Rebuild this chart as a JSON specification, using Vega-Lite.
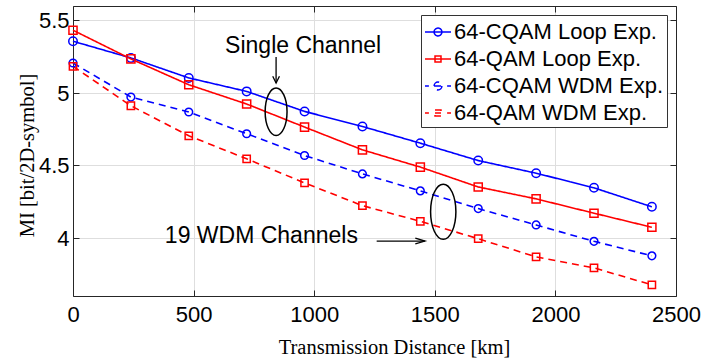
{
  "$schema": "https://vega.github.io/schema/vega-lite/v6.json",
  "width": 603,
  "height": 290,
  "autosize": "none",
  "padding": {"left": 73, "top": 6, "right": 51, "bottom": 64},
  "background": "white",
  "config": {"view": {"stroke": null}},
  "datasets": {
    "mi": [
      {"d": 0, "mi": 5.357, "s": "64-CQAM Loop Exp."},
      {"d": 240, "mi": 5.242, "s": "64-CQAM Loop Exp."},
      {"d": 480, "mi": 5.104, "s": "64-CQAM Loop Exp."},
      {"d": 720, "mi": 5.011, "s": "64-CQAM Loop Exp."},
      {"d": 960, "mi": 4.873, "s": "64-CQAM Loop Exp."},
      {"d": 1200, "mi": 4.769, "s": "64-CQAM Loop Exp."},
      {"d": 1440, "mi": 4.654, "s": "64-CQAM Loop Exp."},
      {"d": 1680, "mi": 4.534, "s": "64-CQAM Loop Exp."},
      {"d": 1920, "mi": 4.447, "s": "64-CQAM Loop Exp."},
      {"d": 2160, "mi": 4.346, "s": "64-CQAM Loop Exp."},
      {"d": 2400, "mi": 4.215, "s": "64-CQAM Loop Exp."},
      {"d": 0, "mi": 5.433, "s": "64-QAM Loop Exp."},
      {"d": 240, "mi": 5.235, "s": "64-QAM Loop Exp."},
      {"d": 480, "mi": 5.057, "s": "64-QAM Loop Exp."},
      {"d": 720, "mi": 4.924, "s": "64-QAM Loop Exp."},
      {"d": 960, "mi": 4.765, "s": "64-QAM Loop Exp."},
      {"d": 1200, "mi": 4.608, "s": "64-QAM Loop Exp."},
      {"d": 1440, "mi": 4.489, "s": "64-QAM Loop Exp."},
      {"d": 1680, "mi": 4.352, "s": "64-QAM Loop Exp."},
      {"d": 1920, "mi": 4.270, "s": "64-QAM Loop Exp."},
      {"d": 2160, "mi": 4.171, "s": "64-QAM Loop Exp."},
      {"d": 2400, "mi": 4.074, "s": "64-QAM Loop Exp."},
      {"d": 0, "mi": 5.207, "s": "64-CQAM WDM Exp."},
      {"d": 240, "mi": 4.972, "s": "64-CQAM WDM Exp."},
      {"d": 480, "mi": 4.869, "s": "64-CQAM WDM Exp."},
      {"d": 720, "mi": 4.719, "s": "64-CQAM WDM Exp."},
      {"d": 960, "mi": 4.569, "s": "64-CQAM WDM Exp."},
      {"d": 1200, "mi": 4.442, "s": "64-CQAM WDM Exp."},
      {"d": 1440, "mi": 4.325, "s": "64-CQAM WDM Exp."},
      {"d": 1680, "mi": 4.203, "s": "64-CQAM WDM Exp."},
      {"d": 1920, "mi": 4.090, "s": "64-CQAM WDM Exp."},
      {"d": 2160, "mi": 3.977, "s": "64-CQAM WDM Exp."},
      {"d": 2400, "mi": 3.877, "s": "64-CQAM WDM Exp."},
      {"d": 0, "mi": 5.184, "s": "64-QAM WDM Exp."},
      {"d": 240, "mi": 4.912, "s": "64-QAM WDM Exp."},
      {"d": 480, "mi": 4.705, "s": "64-QAM WDM Exp."},
      {"d": 720, "mi": 4.546, "s": "64-QAM WDM Exp."},
      {"d": 960, "mi": 4.380, "s": "64-QAM WDM Exp."},
      {"d": 1200, "mi": 4.223, "s": "64-QAM WDM Exp."},
      {"d": 1440, "mi": 4.115, "s": "64-QAM WDM Exp."},
      {"d": 1680, "mi": 3.995, "s": "64-QAM WDM Exp."},
      {"d": 1920, "mi": 3.870, "s": "64-QAM WDM Exp."},
      {"d": 2160, "mi": 3.794, "s": "64-QAM WDM Exp."},
      {"d": 2400, "mi": 3.677, "s": "64-QAM WDM Exp."}
    ],
    "labels": [
      {"d": 954, "mi": 5.276, "label": "Single Channel"},
      {"d": 781, "mi": 3.967, "label": "19 WDM Channels"}
    ],
    "arrows": [
      {"d": 842, "mi": 5.249, "d2": 842, "mi2": 5.069, "dir": "down"},
      {"d": 1259, "mi": 3.979, "d2": 1459, "mi2": 3.979, "dir": "right"}
    ],
    "ellipses": [
      {"d": 842, "mi": 4.871, "group": "Single Channel"},
      {"d": 1535, "mi": 4.181, "group": "19 WDM Channels"}
    ]
  },
  "resolve": {
    "axis": {"x": "independent", "y": "independent"},
    "scale": {"shape": "independent", "size": "independent"}
  },
  "layer": [
    {
      "data": {"name": "mi"},
      "mark": {"type": "line", "strokeWidth": 1.6, "strokeCap": "butt"},
      "encoding": {
        "x": {
          "field": "d", "type": "quantitative",
          "scale": {"domain": [0, 2500], "nice": false, "zero": false},
          "axis": {
            "orient": "bottom",
            "values": [0, 500, 1000, 1500, 2000, 2500],
            "format": "d",
            "title": "Transmission Distance [km]",
            "titleFont": "Liberation Serif", "titleFontSize": 20.5, "titleFontWeight": "normal", "titleColor": "#000",
            "titleX": 321, "titleY": 57, "titleBaseline": "alphabetic", "titleAlign": "center", "titleAnchor": null,
            "labelFont": "Liberation Sans", "labelFontSize": 22, "labelColor": "#000",
            "labelFlush": false, "labelOverlap": false, "labelPadding": 14,
            "grid": true, "gridColor": "#dedede", "gridWidth": 1,
            "domainColor": "#262626", "domainWidth": 1,
            "tickColor": "#262626", "tickSize": -6, "tickWidth": 1
          }
        },
        "y": {
          "field": "mi", "type": "quantitative",
          "scale": {"domain": [3.6, 5.6], "nice": false, "zero": false},
          "axis": {
            "orient": "left",
            "values": [4, 4.5, 5, 5.5],
            "format": "~g",
            "title": "MI [bit/2D-symbol]",
            "titleFont": "Liberation Serif", "titleFontSize": 20.5, "titleFontWeight": "normal", "titleColor": "#000",
            "titleX": -40, "titleY": 149, "titleBaseline": "alphabetic", "titleAlign": "center", "titleAngle": 270, "titleAnchor": null,
            "labelFont": "Liberation Sans", "labelFontSize": 22, "labelColor": "#000",
            "labelPadding": 10, "labelOverlap": false,
            "grid": true, "gridColor": "#dedede", "gridWidth": 1,
            "domainColor": "#262626", "domainWidth": 1,
            "tickColor": "#262626", "tickSize": -6, "tickWidth": 1
          }
        },
        "color": {
          "field": "s", "type": "nominal",
          "scale": {
            "domain": ["64-CQAM Loop Exp.", "64-QAM Loop Exp.", "64-CQAM WDM Exp.", "64-QAM WDM Exp."],
            "range": ["#0000ff", "#ff0000", "#0000ff", "#ff0000"]
          },
          "legend": {
            "title": null,
            "orient": "top-right",
            "offset": 9,
            "padding": 3,
            "fillColor": "white",
            "strokeColor": "#333333",
            "cornerRadius": 0,
            "labelFont": "Liberation Sans", "labelFontSize": 22, "labelColor": "#000", "labelLimit": 400,
            "labelOffset": 2,
            "rowPadding": 2,
            "symbolSize": 676,
            "symbolStrokeWidth": 1.5,
            "encode": {
              "symbols": {
                "update": {
                  "shape": {"signal": "datum.value === '64-CQAM Loop Exp.' ? 'M-1,0H1M0.3,0A0.3,0.3 0 1,1 -0.3,0A0.3,0.3 0 1,1 0.3,0' : datum.value === '64-QAM Loop Exp.' ? 'M-1,0H1M-0.23,-0.23H0.23V0.23H-0.23Z' : datum.value === '64-CQAM WDM Exp.' ? 'M-1,0H-0.7M-0.3,0H0.3M0.7,0H1M0.3,0A0.3,0.3 0 1,1 -0.3,0A0.3,0.3 0 1,1 0.3,0' : 'M-1,0H-0.7M-0.23,0H0.23M0.7,0H1M-0.23,-0.23H0.23V0.23H-0.23Z'"},
                  "fill": {"value": "transparent"},
                  "strokeWidth": {"value": 1.5},
                  "strokeDash": {"value": []}
                }
              }
            }
          }
        },
        "strokeDash": {
          "field": "s", "type": "nominal",
          "scale": {
            "domain": ["64-CQAM Loop Exp.", "64-QAM Loop Exp.", "64-CQAM WDM Exp.", "64-QAM WDM Exp."],
            "range": [[1, 0], [1, 0], [7, 5], [7, 5]]
          },
          "legend": null
        }
      }
    },
    {
      "data": {"name": "mi"},
      "mark": {"type": "point", "filled": false, "strokeWidth": 1.5, "opacity": 1},
      "encoding": {
        "x": {
          "field": "d", "type": "quantitative",
          "axis": {
            "orient": "top", "values": [0, 500, 1000, 1500, 2000, 2500],
            "labels": false, "title": null, "grid": false,
            "domainColor": "#262626", "domainWidth": 1,
            "tickColor": "#262626", "tickSize": -6, "tickWidth": 1
          }
        },
        "y": {
          "field": "mi", "type": "quantitative",
          "axis": {
            "orient": "right", "values": [4, 4.5, 5, 5.5],
            "labels": false, "title": null, "grid": false,
            "domainColor": "#262626", "domainWidth": 1,
            "tickColor": "#262626", "tickSize": -6, "tickWidth": 1
          }
        },
        "color": {"field": "s", "type": "nominal", "legend": null},
        "shape": {
          "field": "s", "type": "nominal",
          "scale": {
            "domain": ["64-CQAM Loop Exp.", "64-QAM Loop Exp.", "64-CQAM WDM Exp.", "64-QAM WDM Exp."],
            "range": ["circle", "square", "circle", "square"]
          },
          "legend": null
        },
        "size": {
          "field": "s", "type": "nominal",
          "scale": {
            "domain": ["64-CQAM Loop Exp.", "64-QAM Loop Exp.", "64-CQAM WDM Exp.", "64-QAM WDM Exp."],
            "range": [72, 53, 72, 53]
          },
          "legend": null
        }
      }
    },
    {
      "data": {"name": "arrows"},
      "mark": {"type": "rule", "color": "black", "strokeWidth": 1.3},
      "encoding": {
        "x": {"field": "d", "type": "quantitative", "axis": null},
        "y": {"field": "mi", "type": "quantitative", "axis": null},
        "x2": {"field": "d2"},
        "y2": {"field": "mi2"}
      }
    },
    {
      "data": {"name": "arrows"},
      "mark": {"type": "point", "filled": false, "stroke": "black", "strokeWidth": 1.3, "opacity": 1, "size": 256},
      "encoding": {
        "x": {"field": "d2", "type": "quantitative", "axis": null},
        "y": {"field": "mi2", "type": "quantitative", "axis": null},
        "shape": {
          "field": "dir", "type": "nominal",
          "scale": {"domain": ["down", "right"], "range": ["M-0.42,-0.85L0,0L0.42,-0.85", "M-1.2,-0.35L0,0L-1.2,0.35"]},
          "legend": null
        }
      }
    },
    {
      "data": {"name": "ellipses"},
      "mark": {"type": "point", "filled": false, "stroke": "black", "strokeWidth": 1.5, "opacity": 1,
               "shape": "M0,-1A0.46,1 0 1,1 0,1A0.46,1 0 1,1 0,-1Z"},
      "encoding": {
        "x": {"field": "d", "type": "quantitative", "axis": null},
        "y": {"field": "mi", "type": "quantitative", "axis": null},
        "size": {
          "field": "group", "type": "nominal",
          "scale": {"domain": ["Single Channel", "19 WDM Channels"], "range": [2266, 3025]},
          "legend": null
        }
      }
    },
    {
      "data": {"name": "labels"},
      "mark": {"type": "text", "font": "Liberation Sans", "fontSize": 23, "color": "black", "align": "center", "baseline": "alphabetic"},
      "encoding": {
        "x": {"field": "d", "type": "quantitative", "axis": null},
        "y": {"field": "mi", "type": "quantitative", "axis": null},
        "text": {"field": "label"}
      }
    }
  ]
}
